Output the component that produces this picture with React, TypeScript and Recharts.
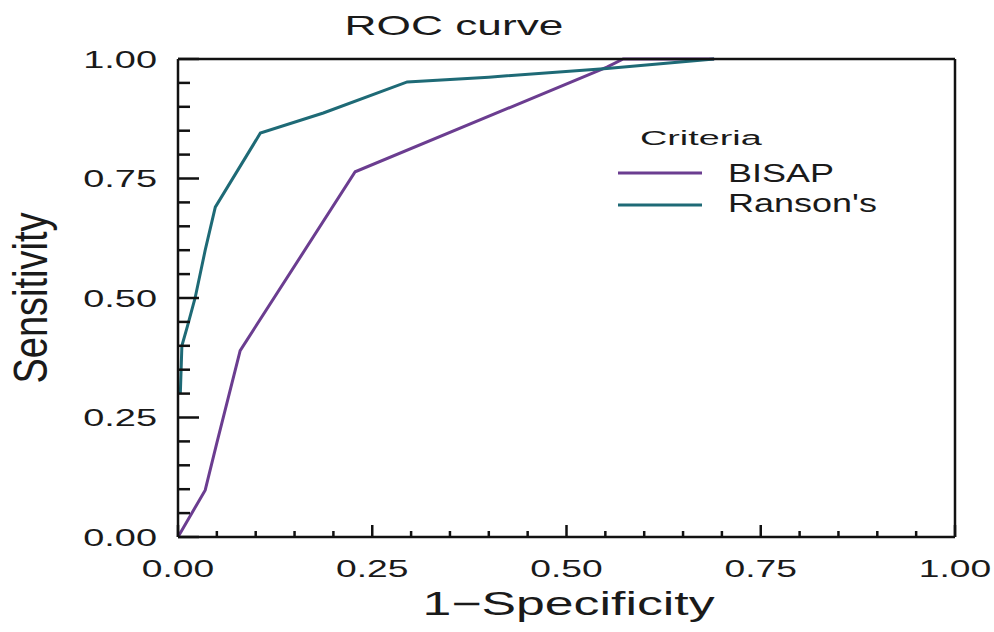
import React from "react";
import { LineChart, Line, XAxis, YAxis, Legend } from "recharts";

const tickValues = [0, 0.05, 0.1, 0.15, 0.2, 0.25, 0.3, 0.35, 0.4, 0.45, 0.5, 0.55, 0.6, 0.65, 0.7, 0.75, 0.8, 0.85, 0.9, 0.95, 1];
const majorTicks = [0, 0.25, 0.5, 0.75, 1];
const tickLabels = ["0.00", "0.25", "0.50", "0.75", "1.00"];

const seriesNames = ["BISAP", "Ranson's"];
const seriesColors = ["#6b3d90", "#1e6a76"];

const bisapX = [0, 0.035, 0.05, 0.08, 0.228, 0.552, 0.573, 0.69];
const bisapY = [0, 0.098, 0.197, 0.39, 0.764, 0.983, 1.0, 1.0];

const ransonX = [0.003, 0.005, 0.012, 0.022, 0.035, 0.048, 0.106, 0.187, 0.295, 0.4, 0.552, 0.69];
const ransonY = [0.3, 0.4, 0.44, 0.5, 0.6, 0.69, 0.845, 0.887, 0.952, 0.962, 0.98, 1.0];

const bisapData = bisapX.map((x, i) => ({ x, y: bisapY[i] }));
const ransonData = ransonX.map((x, i) => ({ x, y: ransonY[i] }));

const FONT = "'Liberation Sans', Arial, Helvetica, sans-serif";
const AX = "#111";
const TXT = "#1a1a1a";

const isMajor = (v: number) => Math.abs(v * 4 - Math.round(v * 4)) < 1e-6;
const labelFor = (v: number) => tickLabels[majorTicks.findIndex((m) => Math.abs(m - v) < 1e-6)];

const BottomTick = (props: any) => {
  const { x, y, payload } = props;
  const v = payload.value;
  const major = isMajor(v);
  return (
    <g>
      <line x1={x} x2={x} y1={y} y2={y - (major ? 12 : 6)} stroke={AX} strokeWidth={2.5} />
      {major && (
        <text transform={`translate(${x},${y + 40}) scale(1.55,1)`} textAnchor="middle" fontSize={24} fill={TXT} fontFamily={FONT}>
          {labelFor(v)}
        </text>
      )}
    </g>
  );
};

const TopTick = (props: any) => {
  const { x, y, payload } = props;
  const major = isMajor(payload.value);
  return <line x1={x} x2={x} y1={y} y2={y + (major ? 12 : 6)} stroke={AX} strokeWidth={2.5} />;
};

const LeftTick = (props: any) => {
  const { x, y, payload } = props;
  const v = payload.value;
  const major = isMajor(v);
  return (
    <g>
      <line x1={x} x2={x + (major ? 21 : 12)} y1={y} y2={y} stroke={AX} strokeWidth={2.5} />
      {major && (
        <text transform={`translate(${x - 21},${y + 8.5}) scale(1.58,1)`} textAnchor="end" fontSize={24} fill={TXT} fontFamily={FONT}>
          {labelFor(v)}
        </text>
      )}
    </g>
  );
};

const RightTick = (props: any) => {
  const { x, y, payload } = props;
  const major = isMajor(payload.value);
  return <line x1={x} x2={x - (major ? 21 : 12)} y1={y} y2={y} stroke={AX} strokeWidth={2.5} />;
};

const XLabel = (props: any) => {
  const vb = props.viewBox || {};
  const cx = vb.x + vb.width / 2 + 2;
  const by = vb.y + 78;
  return (
    <text transform={`translate(${cx},${by}) scale(1.57,1)`} textAnchor="middle" fontSize={33} fill={TXT} fontFamily={FONT}>
      1−Specificity
    </text>
  );
};

const YLabel = (props: any) => {
  const vb = props.viewBox || {};
  const cy = vb.y + vb.height / 2;
  return (
    <text transform={`translate(47,${cy}) scale(1.26,1) rotate(-90)`} textAnchor="middle" fontSize={38} fill={TXT} fontFamily={FONT}>
      Sensitivity
    </text>
  );
};

const renderLegend = (props: any) => {
  const payload = props.payload || [];
  return (
    <svg width={994} height={632} style={{ position: "absolute", left: 0, top: 0, overflow: "visible", pointerEvents: "none" }}>
      <text transform="translate(640,145) scale(1.8,1)" fontSize={21} fill={TXT} fontFamily={FONT}>
        Criteria
      </text>
      {payload.map((p: any, i: number) => (
        <g key={i}>
          <line x1={618} x2={702} y1={173 + 32 * i} y2={173 + 32 * i} stroke={p.color} strokeWidth={3} />
          <text transform={`translate(728,${182 + 30 * i}) scale(1.44,1)`} fontSize={25} fill={TXT} fontFamily={FONT}>
            {p.value}
          </text>
        </g>
      ))}
    </svg>
  );
};

export default function App() {
  return (
    <div style={{ position: "absolute", left: 0, top: 0, width: 994, height: 632, background: "#fff" }}>
      <LineChart width={994} height={632} margin={{ top: 49, right: 29, bottom: 35, left: 78 }}>
        <XAxis
          dataKey="x"
          type="number"
          domain={[0, 1]}
          ticks={tickValues}
          interval={0}
          height={60}
          tickSize={0}
          tickMargin={0}
          tickLine={false}
          tick={BottomTick}
          axisLine={{ stroke: AX, strokeWidth: 2.5 }}
          label={{ content: XLabel }}
        />
        <XAxis
          xAxisId="top"
          orientation="top"
          dataKey="x"
          type="number"
          domain={[0, 1]}
          ticks={tickValues}
          interval={0}
          height={10}
          tickSize={0}
          tickMargin={0}
          tickLine={false}
          tick={TopTick}
          axisLine={{ stroke: AX, strokeWidth: 2.5 }}
        />
        <YAxis
          type="number"
          domain={[0, 1]}
          ticks={tickValues}
          interval={0}
          width={100}
          tickSize={0}
          tickMargin={0}
          tickLine={false}
          tick={LeftTick}
          axisLine={{ stroke: AX, strokeWidth: 2.5 }}
          label={{ content: YLabel }}
        />
        <YAxis
          yAxisId="right"
          orientation="right"
          type="number"
          domain={[0, 1]}
          ticks={tickValues}
          interval={0}
          width={10}
          tickSize={0}
          tickMargin={0}
          tickLine={false}
          tick={RightTick}
          axisLine={{ stroke: AX, strokeWidth: 2.5 }}
        />
        <Legend content={renderLegend} wrapperStyle={{ left: 0, top: 0, width: 0, height: 0 }} />
        <Line
          data={bisapData}
          dataKey="y"
          name={seriesNames[0]}
          stroke={seriesColors[0]}
          strokeWidth={3}
          dot={false}
          type="linear"
          isAnimationActive={false}
        />
        <Line
          data={ransonData}
          dataKey="y"
          name={seriesNames[1]}
          stroke={seriesColors[1]}
          strokeWidth={3}
          dot={false}
          type="linear"
          isAnimationActive={false}
        />
      </LineChart>
      <svg width={994} height={632} style={{ position: "absolute", left: 0, top: 0, pointerEvents: "none" }}>
        <text transform="translate(454,35) scale(1.58,1)" textAnchor="middle" fontSize={28} fill={TXT} fontFamily={FONT}>
          ROC curve
        </text>
      </svg>
    </div>
  );
}
